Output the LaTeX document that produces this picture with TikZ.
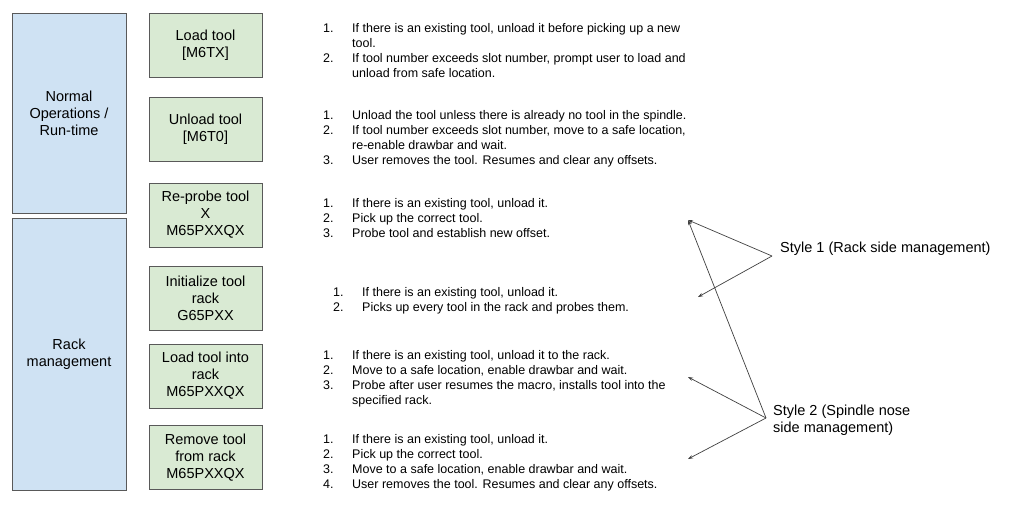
\documentclass[tikz,border=0pt]{standalone}
\usepackage{fontspec}
\setmainfont{Liberation Sans}
\usetikzlibrary{arrows.meta}
\definecolor{grpblue}{HTML}{CFE2F3}
\definecolor{cmdgreen}{HTML}{D9EAD3}
\definecolor{edgegray}{HTML}{595959}
\tikzset{
  grp/.style={draw=edgegray,fill=grpblue,minimum width=114pt,align=center,
    font=\fontsize{14.5}{17}\selectfont},
  cmd/.style={draw=edgegray,fill=cmdgreen,minimum width=113pt,minimum height=64pt,
    align=center,font=\fontsize{14.5}{17}\selectfont},
  steps/.style={anchor=north west,inner sep=0pt,align=left,
    font=\fontsize{12.5}{15}\selectfont},
  note/.style={anchor=west,inner sep=0pt,align=left,font=\fontsize{14.5}{17}\selectfont},
  pointer/.style={draw=black!75,line width=0.7pt,-{Stealth[length=5pt,width=3.5pt]}}
}
\begin{document}
\begin{tikzpicture}[x=1pt,y=-1pt]
	\useasboundingbox[fill=white] (0,0) rectangle (1024,506);
	% groups
	\node[grp,minimum height=200pt] (normal) at (69,113) {Normal\\Operations /\\Run-time};
	\node[grp,minimum height=272pt] (rack) at (69,354) {Rack\\management};
	% commands
	\node[cmd] (load) at (205.5,45) {Load tool\\{[M6TX]}};
	\node[cmd] (unload) at (205.5,129) {Unload tool\\{[M6T0]}};
	\node[cmd] (reprobe) at (205.5,215) {Re-probe tool\\X\\M65PXXQX};
	\node[cmd] (init) at (205.5,298) {Initialize tool\\rack\\G65PXX};
	\node[cmd] (loadrack) at (205.5,376) {Load tool into\\rack\\M65PXXQX};
	\node[cmd] (remove) at (205.5,457.5) {Remove tool\\from rack\\M65PXXQX};
	% steps
	\node[steps] (loadsteps) at (323,22) {\begin{tabular}{@{}p{29pt}@{}l@{}}
		1. & If there is an existing tool, unload it before picking up a new\\
		   & tool.\\
		2. & If tool number exceeds slot number, prompt user to load and\\
		   & unload from safe location.
	\end{tabular}};
	\node[steps] (unloadsteps) at (323,108.3) {\begin{tabular}{@{}p{29pt}@{}l@{}}
		1. & Unload the tool unless there is already no tool in the spindle.\\
		2. & If tool number exceeds slot number, move to a safe location,\\
		   & re-enable drawbar and wait.\\
		3. & User removes the tool. Resumes and clear any offsets.
	\end{tabular}};
	\node[steps] (reprobesteps) at (323,196.5) {\begin{tabular}{@{}p{29pt}@{}l@{}}
		1. & If there is an existing tool, unload it.\\
		2. & Pick up the correct tool.\\
		3. & Probe tool and establish new offset.
	\end{tabular}};
	\node[steps] (initsteps) at (333,285.5) {\begin{tabular}{@{}p{29pt}@{}l@{}}
		1. & If there is an existing tool, unload it.\\
		2. & Picks up every tool in the rack and probes them.
	\end{tabular}};
	\node[steps] (loadracksteps) at (323,349) {\begin{tabular}{@{}p{29pt}@{}l@{}}
		1. & If there is an existing tool, unload it to the rack.\\
		2. & Move to a safe location, enable drawbar and wait.\\
		3. & Probe after user resumes the macro, installs tool into the\\
		   & specified rack.
	\end{tabular}};
	\node[steps] (removesteps) at (323,432.3) {\begin{tabular}{@{}p{29pt}@{}l@{}}
		1. & If there is an existing tool, unload it.\\
		2. & Pick up the correct tool.\\
		3. & Move to a safe location, enable drawbar and wait.\\
		4. & User removes the tool. Resumes and clear any offsets.
	\end{tabular}};
	% styles
	\node[note] (style1) at (780,249) {Style 1 (Rack side management)};
	\node[note] (style2) at (773,420.5) {Style 2 (Spindle nose\\side management)};
	\coordinate (from1) at (772,256);
	\coordinate (from2) at (766,418);
	\coordinate (tipreprobe) at (688,220);
	\coordinate (tipinit) at (698,297);
	\coordinate (tiploadrack) at (688,377);
	\coordinate (tipremove) at (688,459);
	\draw[pointer] (from1) -- (tipreprobe);
	\draw[pointer] (from1) -- (tipinit);
	\draw[pointer] (from2) -- (tipreprobe);
	\draw[pointer] (from2) -- (tiploadrack);
	\draw[pointer] (from2) -- (tipremove);
\end{tikzpicture}
\end{document}
